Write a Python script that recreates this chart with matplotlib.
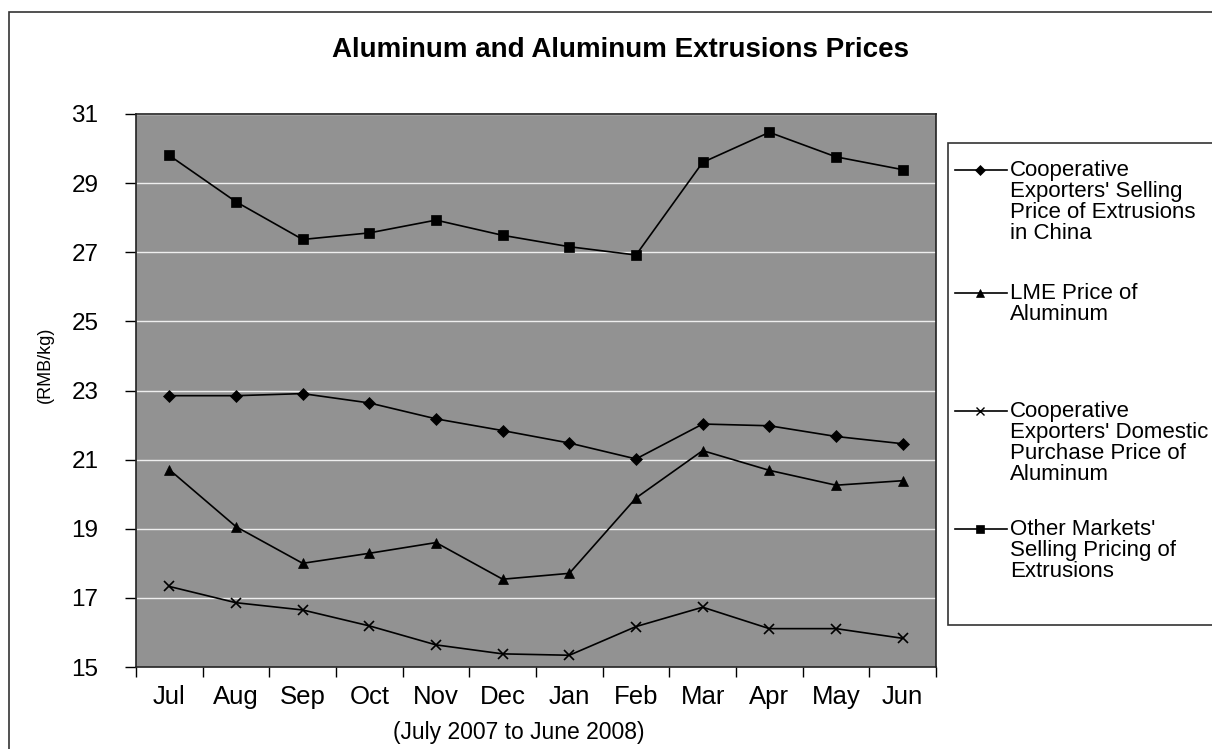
import matplotlib
matplotlib.use("Agg")
import matplotlib.pyplot as plt
from matplotlib.patches import Rectangle
from matplotlib.lines import Line2D

months = ["Jul", "Aug", "Sep", "Oct", "Nov", "Dec", "Jan", "Feb", "Mar", "Apr", "May", "Jun"]
coop_selling = [22.85, 22.85, 22.91, 22.64, 22.18, 21.84, 21.48, 21.02, 22.03, 21.98, 21.67, 21.46]
lme_price = [20.71, 19.06, 18.00, 18.29, 18.60, 17.54, 17.71, 19.89, 21.26, 20.69, 20.26, 20.39]
coop_purchase = [17.33, 16.86, 16.65, 16.19, 15.64, 15.38, 15.34, 16.17, 16.73, 16.11, 16.11, 15.83]
other_markets = [29.80, 28.46, 27.37, 27.56, 27.93, 27.49, 27.16, 26.92, 29.60, 30.47, 29.76, 29.39]

series_labels = [
    "Cooperative\nExporters' Selling\nPrice of Extrusions\nin China",
    "LME Price of\nAluminum",
    "Cooperative\nExporters' Domestic\nPurchase Price of\nAluminum",
    "Other Markets'\nSelling Pricing of\nExtrusions",
]
yticks = [15, 17, 19, 21, 23, 25, 27, 29, 31]

plt.rcParams['font.family'] = ['Liberation Sans', 'DejaVu Sans']

W, H = 1212, 749
fig = plt.figure(figsize=(W / 100, H / 100), dpi=100)
fig.patch.set_facecolor("white")

def fx(px):
    return px / W

def fy(py):
    return 1 - py / H

# outer chart border
fig.patches.append(Rectangle((fx(9), fy(800)), fx(1300), fy(12) - fy(800), transform=fig.transFigure,
                             fill=False, edgecolor="#333333", linewidth=1.2))

ax = fig.add_axes([fx(136), fy(667), fx(936) - fx(136), fy(114) - fy(667)])
ax.set_facecolor("#929292")

x = list(range(len(months)))
styles = [
    (coop_selling, "D", 6),
    (lme_price, "^", 7.5),
    (coop_purchase, "x", 7),
    (other_markets, "s", 6.5),
]
for vals, mk, ms in styles:
    ax.plot(x, vals, color="black", linewidth=1.2, marker=mk, markersize=ms,
            markeredgewidth=1.2 if mk == "x" else 0.5, markerfacecolor="black", markeredgecolor="black")

ax.set_xlim(-0.5, len(months) - 0.5)
ax.set_ylim(15, 31)
ax.set_yticks(yticks)
ax.set_yticklabels([str(v) for v in yticks], fontsize=17.5)
ax.set_xticks(x)
ax.set_xticklabels(months, fontsize=18.5)
ax.set_xticks([i - 0.5 for i in range(len(months) + 1)], minor=True)
ax.tick_params(axis="x", which="major", length=0, pad=13)
ax.tick_params(axis="x", which="minor", length=7, direction="out", width=1)
ax.tick_params(axis="y", length=8, direction="out", width=1, pad=19)

ax.grid(axis="y", color="#eeeeee", linewidth=1.0)
ax.set_axisbelow(True)
for side, sp in ax.spines.items():
    sp.set_color("#222222")
    sp.set_linewidth(1.2)

fig.text(fx(620), fy(50), "Aluminum and Aluminum Extrusions Prices", ha="center", va="center",
         fontsize=20, fontweight="bold")
fig.text(fx(519), fy(733), "(July 2007 to June 2008)", ha="center", va="center", fontsize=16.5)
fig.text(fx(45), fy(365), "(RMB/kg)", ha="center", va="center", rotation=90, fontsize=13)

# legend box
fig.patches.append(Rectangle((fx(948), fy(625)), fx(400), fy(143) - fy(625), transform=fig.transFigure,
                             fill=True, facecolor="white", edgecolor="#333333", linewidth=1.2))
entry_y = [170, 293, 411, 529]
for (vals, mk, ms), lbl, ey in zip(styles, series_labels, entry_y):
    fig.add_artist(Line2D([fx(955), fx(1007)], [fy(ey), fy(ey)], transform=fig.transFigure,
                          color="black", linewidth=1.2))
    fig.add_artist(Line2D([fx(980)], [fy(ey)], transform=fig.transFigure, marker=mk,
                          markersize=ms * 0.85, color="black", markerfacecolor="black",
                          markeredgewidth=1.0 if mk == "x" else 0.5))
    fig.text(fx(1010), fy(ey - 10), lbl, ha="left", va="top", fontsize=16, linespacing=1.0)

fig.savefig("out.png", dpi=100)
